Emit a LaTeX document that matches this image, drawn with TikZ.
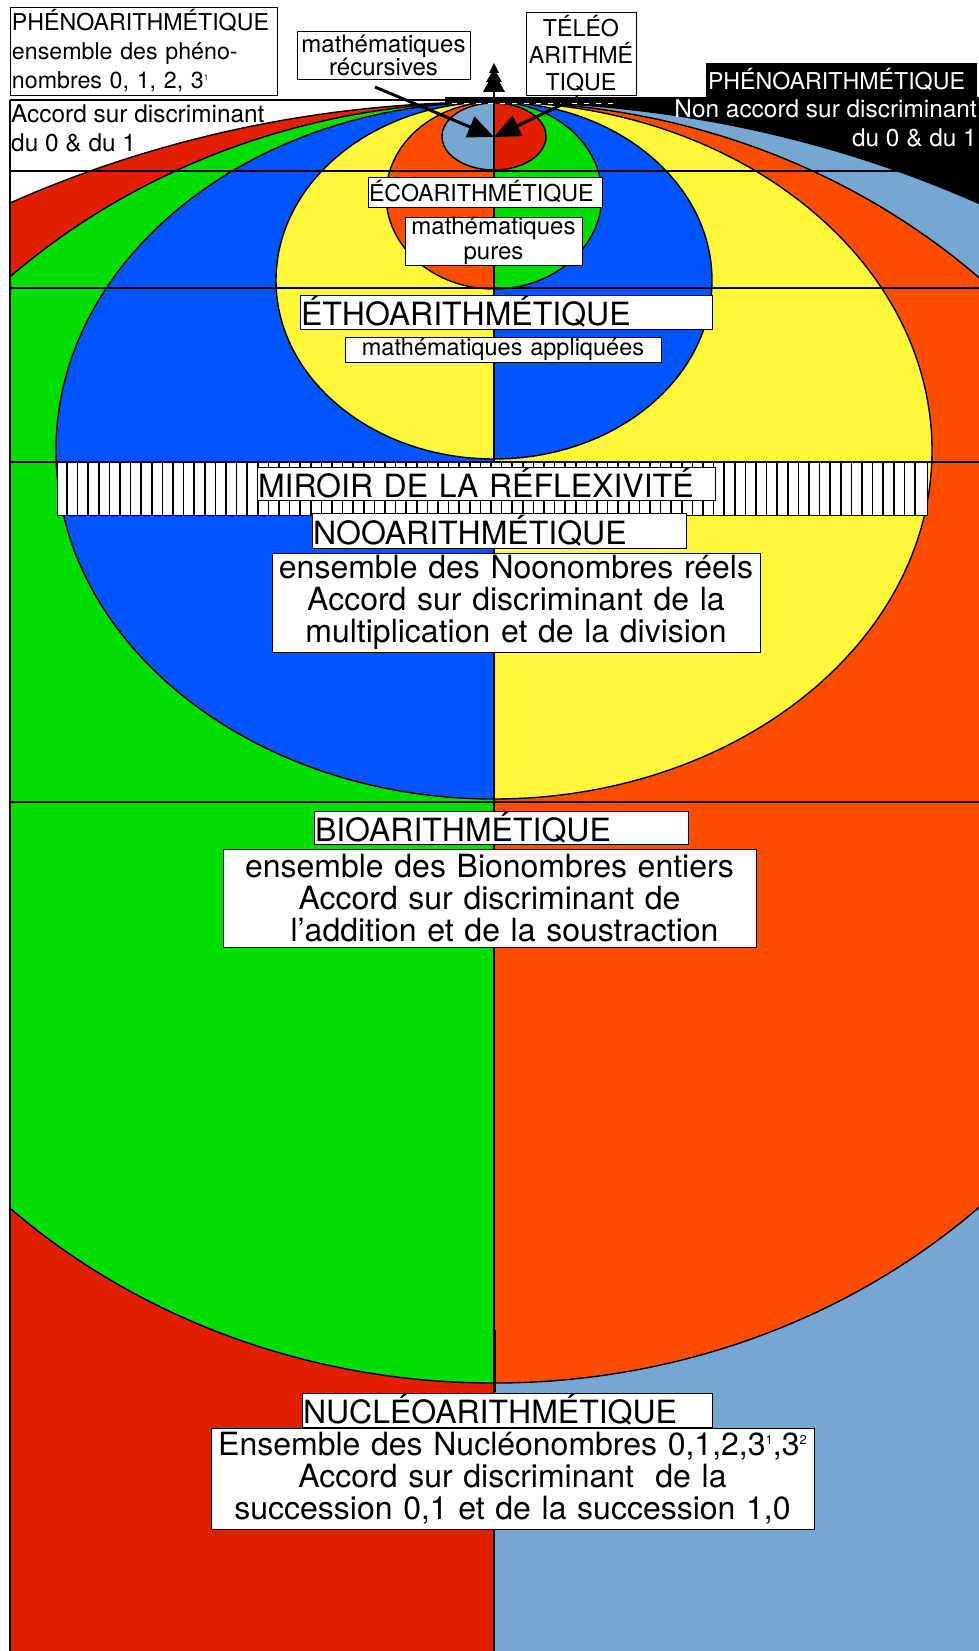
\documentclass[tikz,border=0pt]{standalone}
\usepackage{fontspec}
\setmainfont{TeX Gyre Heros}
\usetikzlibrary{arrows.meta}
\definecolor{cRed}{RGB}{226,32,0}
\definecolor{cGreen}{RGB}{0,221,0}
\definecolor{cBlue}{RGB}{0,85,255}
\definecolor{cYellow}{RGB}{255,248,58}
\definecolor{cOrange}{RGB}{255,77,0}
\definecolor{cLight}{RGB}{118,166,210}
\newcommand{\fsz}[2]{\fontsize{#1}{#2}\selectfont}
\newcommand{\halfell}[5]{%
  \begin{scope}\clip (10,0) rectangle (494,1651);
    \fill[#4] (494,#1) ellipse [x radius=#2pt, y radius=#3pt];\end{scope}
  \begin{scope}\clip (494,0) rectangle (979,1651);
    \fill[#5] (494,#1) ellipse [x radius=#2pt, y radius=#3pt];\end{scope}
  \draw[eline] (494,#1) ellipse [x radius=#2pt, y radius=#3pt];}
\newcommand{\supsmall}[1]{\raisebox{8pt}{\fsz{8}{8}#1}}
\newcommand{\supbig}[1]{\raisebox{11pt}{\fsz{13}{13}#1}}
\begin{document}
\begin{tikzpicture}[x=1pt,y=-1pt,
  eline/.style={line width=1.4pt},
  hline/.style={line width=1.6pt},
  lbl/.style={draw=black, line width=0.8pt, fill=white, inner xsep=2pt, inner ysep=0pt, anchor=north west, outer sep=0pt},
  small/.style={font=\fsz{23.2}{29}},
  mid/.style={font=\fsz{24.4}{29}},
  big/.style={font=\fsz{32}{32}},
  arr/.style={line width=3pt, -{Triangle[length=26pt,width=22pt]}}]
\useasboundingbox (0,0) rectangle (979,1651);
\fill[white] (0,0) rectangle (979,1651);
\fill[black] (494,97) rectangle (979,260);
% nested ellipses
\begin{scope}
\clip (10,0) rectangle (979,1651);
\halfell{1089}{1097}{987}{cRed}{cLight}
\halfell{742.5}{705}{640.5}{cGreen}{cOrange}
\halfell{450.5}{438}{348.5}{cBlue}{cYellow}
\halfell{280.5}{218}{178.5}{cYellow}{cBlue}
\halfell{195.5}{108}{93.5}{cOrange}{cGreen}
\halfell{136.5}{52}{33.5}{cLight}{cRed}
\end{scope}
% lines
\draw[hline] (10,100) -- (979,100);
\foreach \yy in {171,288,462,802} \draw[hline] (10,\yy) -- (979,\yy);
\draw[line width=1.6pt] (494,100) -- (494,1651);
\draw[line width=3pt] (494,1330) -- (494,1392);
\draw[line width=2pt] (10,100) -- (10,1651);
% top bar and tree
\fill[black] (445,97) rectangle (548,103);
\draw[white, line width=1.5pt, dash pattern=on 5pt off 7pt] (452,103.5) -- (620,103.5);
\fill[black] (494,63) -- (489,73) -- (491.5,73) -- (486,82) -- (488.5,82) -- (483,92)
  -- (505,92) -- (499.5,82) -- (502,82) -- (496.5,73) -- (499,73) -- cycle;
\draw[line width=2pt] (494,90) -- (494,100);
% mirror band
\node[draw, line width=1.3pt, fill=white, anchor=north west, minimum width=870pt, minimum height=53pt, inner sep=0pt] (band) at (57,462) {};
\foreach \i in {0,...,80} \draw[line width=1.7pt] ({67+10.6*\i},462) -- ({67+10.6*\i},515);
% labels
\node[lbl, small, minimum width=267pt, minimum height=88pt, text width=263pt, align=left] (phen) at (10,7)
  {PHÉNOARITHMÉTIQUE\\ensemble des phéno-\\nombres 0, 1, 2, 3\supsmall{1}};
\node[mid, anchor=north west, align=left, inner sep=0pt] (accord) at (11,105)
  {Accord sur discriminant\\du 0 \& du 1};
\node[lbl, font=\fsz{24}{23}, minimum width=173pt, minimum height=48pt, text width=169pt, align=center] (rec) at (297,31)
  {mathématiques\\récursives};
\node[lbl, font=\fsz{23.2}{27}, minimum width=110pt, minimum height=83pt, text width=106pt, align=center] (teleo) at (526,12)
  {TÉLÉO\\ARITHMÉ\\TIQUE};
\node[lbl, small, fill=black, text=white, draw=black, minimum width=270pt, minimum height=34pt, text width=266pt, align=left] (phen2) at (706,63)
  {PHÉNOARITHMÉTIQUE};
\node[mid, text=white, anchor=north east, align=right, inner sep=0pt] (nonacc) at (977,100)
  {Non accord sur discriminant\\du 0 \& du 1};
\node[lbl, small, inner xsep=1pt, minimum width=234pt, minimum height=30pt, text width=232pt, align=left] (eco) at (368,177)
  {ÉCOARITHMÉTIQUE};
\node[lbl, font=\fsz{24}{25}, minimum width=177pt, minimum height=48pt, text width=173pt, align=center] (pures) at (405,217)
  {mathématiques\\pures};
\node[lbl, big, inner xsep=1pt, minimum width=412pt, minimum height=34pt, text width=410pt, align=left] (etho) at (300,295)
  {ÉTHOARITHMÉTIQUE};
\node[lbl, font=\fsz{23.5}{24}, minimum width=316pt, minimum height=25pt, text width=312pt, align=center] (appl) at (345,337)
  {mathématiques appliquées};
\node[lbl, big, inner xsep=1pt, minimum width=458pt, minimum height=33pt, text width=456pt, align=left] (miroir) at (257,467)
  {MIROIR DE LA RÉFLEXIVITÉ};
\node[lbl, big, inner xsep=1pt, minimum width=374pt, minimum height=35pt, text width=372pt, align=left] (noo) at (312,513)
  {NOOARITHMÉTIQUE};
\node[lbl, big, minimum width=488pt, minimum height=99pt, text width=484pt, align=center] (noon) at (272,553)
  {ensemble des Noonombres réels\\Accord sur discriminant de la\\multiplication et de la division};
\node[lbl, big, inner xsep=1pt, minimum width=374pt, minimum height=33pt, text width=372pt, align=left] (bio) at (314,811)
  {BIOARITHMÉTIQUE};
\node[lbl, big, minimum width=533pt, minimum height=98pt, text width=529pt, align=center] (bion) at (223,849)
  {ensemble des Bionombres entiers\\Accord sur discriminant de\\\hspace*{30pt}l’addition et de la soustraction};
\node[lbl, big, inner xsep=1pt, minimum width=410pt, minimum height=34pt, text width=408pt, align=left] (nucl) at (302,1393)
  {NUCLÉOARITHMÉTIQUE};
\node[lbl, big, minimum width=603pt, minimum height=101pt, text width=599pt, align=center] (nucln) at (211,1428)
  {Ensemble des Nucléonombres 0,1,2,3\supbig{1},3\supbig{2}\\Accord sur discriminant\ \ de la\\succession 0,1 et de la succession 1,0};
% arrows
\coordinate (tip) at (494,137);
\coordinate (recfoot) at (375,87);
\coordinate (telfoot) at (578,97);
\draw[arr] (recfoot) -- (tip);
\draw[arr] (telfoot) -- (tip);
\end{tikzpicture}
\end{document}
